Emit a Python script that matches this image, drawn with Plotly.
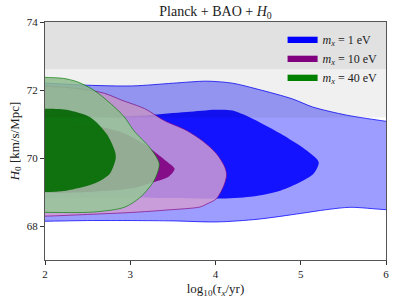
import plotly.graph_objects as go

# ---------------- data ----------------
# 2D confidence contours in (log10(tau_x/yr), H0) plane
# m_x = 1 eV
blue_outer_x = [1.6, 2.0, 2.5, 3.03, 3.5, 3.9, 4.2, 4.5, 4.9, 5.14, 5.54, 6.0, 6.4,
                6.4, 6.0, 5.58, 5.3, 5.0, 4.5, 4.02, 3.5, 3.03, 2.5, 2.0, 1.6]
blue_outer_y = [72.2, 72.2, 72.14, 72.12, 72.2, 72.26, 72.2, 72.02, 71.74, 71.5, 71.26, 71.08, 70.95,
                68.45, 68.48, 68.55, 68.48, 68.37, 68.2, 68.12, 68.15, 68.16, 68.16, 68.14, 68.14]
blue_inner_x = [1.6, 2.0, 2.5, 3.2, 3.66, 4.0, 4.2, 4.4, 4.76, 5.07, 5.21, 5.15, 4.76, 4.37,
                3.97, 3.5, 3.0, 2.5, 2.0, 1.6]
blue_inner_y = [71.15, 71.15, 71.18, 71.26, 71.35, 71.42, 71.4, 71.2, 70.72, 70.22, 69.88, 69.54,
                69.04, 68.85, 68.8, 68.82, 68.84, 68.82, 68.8, 68.8]
# m_x = 10 eV
purple_outer_x = [1.6, 2.0, 2.4, 2.7, 2.9, 3.17, 3.4, 3.66, 3.85, 4.01, 4.11, 4.13, 4.1, 4.01,
                  3.9, 3.82, 3.43, 3.03, 2.5, 2.0, 1.6]
purple_outer_y = [72.11, 72.11, 72.04, 71.9, 71.7, 71.45, 71.1, 70.81, 70.5, 70.13, 69.73, 69.5,
                  69.2, 68.8, 68.65, 68.56, 68.47, 68.4, 68.34, 68.29, 68.29]
purple_inner_x = [1.6, 2.0, 2.5, 2.9, 3.16, 3.31, 3.45, 3.52, 3.45, 3.27, 3.0, 2.5, 2.0, 1.6]
purple_inner_y = [71.15, 71.15, 71.0, 70.75, 70.42, 70.13, 69.85, 69.68, 69.45, 69.29, 69.1,
                  69.0, 68.97, 68.97]
# m_x = 40 eV
green_outer_x = [1.6, 2.0, 2.22, 2.38, 2.57, 2.77, 2.93, 3.04, 3.24, 3.34, 3.28, 3.12, 2.93,
                 2.57, 2.0, 1.6]
green_outer_y = [72.37, 72.37, 72.34, 72.24, 72.0, 71.6, 71.21, 70.81, 70.27, 69.83, 69.34,
                 68.85, 68.55, 68.41, 68.4, 68.4]
green_inner_x = [1.6, 2.0, 2.25, 2.53, 2.72, 2.82, 2.83, 2.76, 2.57, 2.25, 2.0, 1.6]
green_inner_y = [71.45, 71.45, 71.42, 71.2, 70.72, 70.2, 70.0, 69.54, 69.24, 69.04, 69.0, 69.0]

series_names = ["<i>m</i><sub><i>x</i></sub> = 1 eV",
                "<i>m</i><sub><i>x</i></sub> = 10 eV",
                "<i>m</i><sub><i>x</i></sub> = 40 eV"]

# local H0 measurement bands (1 and 2 sigma)
h0_1sigma = [72.61, 75.45]
h0_2sigma = [71.19, 76.87]

x_ticks = [2, 3, 4, 5, 6]
y_ticks = [68, 70, 72, 74]

# ---------------- style ----------------
solid = ["rgb(0,0,255)", "rgb(128,0,128)", "rgb(0,128,0)"]
pale = ["rgba(140,140,255,0.85)", "rgba(208,158,212,0.85)", "rgba(150,200,150,0.85)"]
inner_fill = ["rgba(0,0,255,0.88)", "rgba(128,0,128,0.9)", "rgba(0,108,0,0.9)"]
edge = ["rgba(0,0,255,0.75)", "rgba(128,0,128,0.65)", "rgba(0,128,0,0.65)"]

contours = [
    (blue_outer_x, blue_outer_y, blue_inner_x, blue_inner_y),
    (purple_outer_x, purple_outer_y, purple_inner_x, purple_inner_y),
    (green_outer_x, green_outer_y, green_inner_x, green_inner_y),
]

fig = go.Figure()
for i, (ox, oy, ix, iy) in enumerate(contours):
    fig.add_trace(go.Scatter(x=ox, y=oy, mode="lines", fill="toself",
                             fillcolor=pale[i], line=dict(color=edge[i], width=1, shape="spline", smoothing=0.8),
                             showlegend=False, hoverinfo="skip"))
    fig.add_trace(go.Scatter(x=ix, y=iy, mode="lines", fill="toself",
                             fillcolor=inner_fill[i], line=dict(color="rgba(0,0,0,0)", width=0, shape="spline", smoothing=0.8),
                             showlegend=False, hoverinfo="skip"))

for i, name in enumerate(series_names):
    fig.add_trace(go.Scatter(x=[None], y=[None], mode="lines", fill="toself",
                             fillcolor=solid[i], line=dict(color=solid[i], width=0.5),
                             name=name))

for band in (h0_1sigma, h0_2sigma):
    fig.add_shape(type="rect", xref="paper", x0=0, x1=1, yref="y", y0=band[0], y1=band[1],
                  fillcolor="rgba(0,0,0,0.06)", line=dict(width=0), layer="above")

font_family = "Liberation Serif, DejaVu Serif, serif"
axis_common = dict(showgrid=False, zeroline=False, showline=True, mirror=True, automargin=False,
                   linecolor="#555", linewidth=1, ticks="outside", ticklen=4,
                   tickcolor="#333", tickfont=dict(size=11, color="#222", family=font_family))

fig.update_layout(
    width=397, height=306,
    margin=dict(l=45, r=11, t=22, b=46, autoexpand=False),
    paper_bgcolor="white", plot_bgcolor="white",
    font=dict(family=font_family, color="#222"),
    title=dict(text="Planck + BAO + <i>H</i><sub>0</sub>", xref="paper", x=0.5, xanchor="center",
               yref="container", y=0.965, yanchor="middle", font=dict(size=14), automargin=False),
    xaxis=dict(range=[2, 6], tickvals=x_ticks,
               title=dict(text="log<sub>10</sub>(<i>τ</i><sub><i>x</i></sub>/yr)", font=dict(size=13), standoff=4),
               **axis_common),
    yaxis=dict(range=[67, 74], tickvals=y_ticks,
               title=dict(text="<i>H</i><sub>0</sub> [km/s/Mpc]", font=dict(size=13), standoff=4),
               **axis_common),
    legend=dict(x=0.99, xanchor="right", y=0.99, yanchor="top", bgcolor="rgba(0,0,0,0)",
                font=dict(size=12, family=font_family), itemwidth=30, tracegroupgap=0),
)

fig.write_html("out.html", config={"displayModeBar": False},
               post_script="document.body.style.margin='0px';document.body.style.overflow='hidden';")
